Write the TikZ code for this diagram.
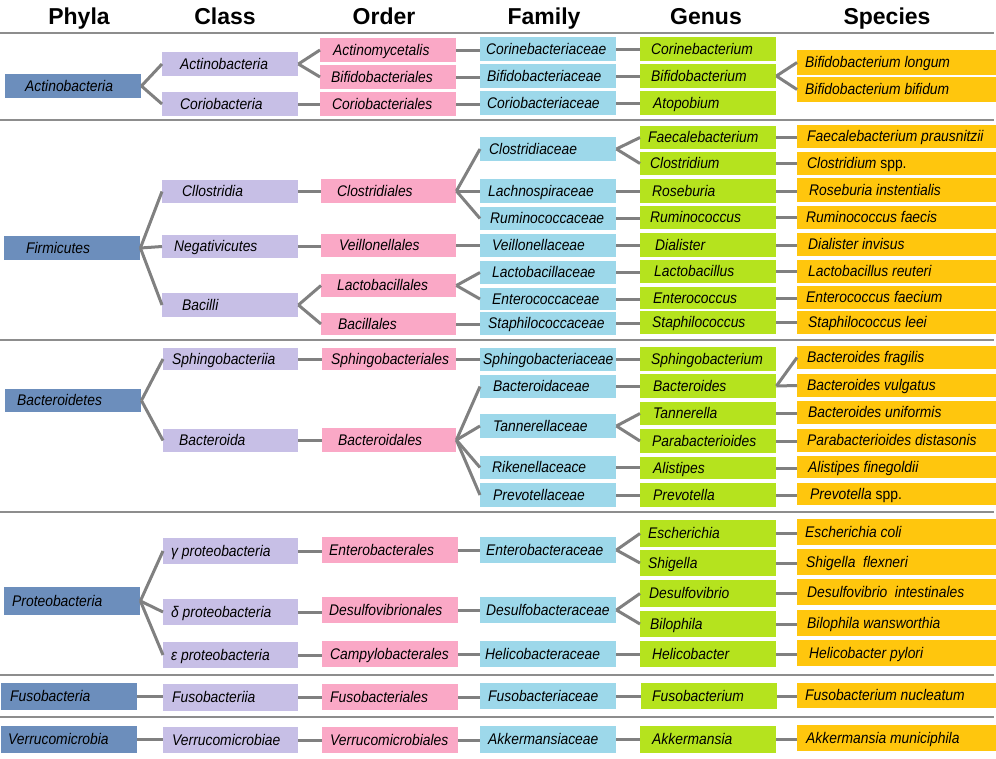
\documentclass[tikz,border=0pt]{standalone}
\usepackage{fontspec}
\setmainfont{Liberation Sans}[FakeStretch=0.9]
\newfontfamily\hdrfont{Liberation Sans}
\definecolor{cP}{HTML}{6C8EBC}
\definecolor{cC}{HTML}{C7BFE6}
\definecolor{cO}{HTML}{FAA8C6}
\definecolor{cF}{HTML}{9DD8EA}
\definecolor{cG}{HTML}{B5E31E}
\definecolor{cS}{HTML}{FFC60D}
\definecolor{lnc}{HTML}{808080}
\tikzset{
  box/.style={anchor=west, inner sep=0pt, text height=12pt, text depth=2pt,
    font=\fontsize{15.4}{17}\selectfont\itshape, text=black},
  hdr/.style={anchor=base, font=\hdrfont\bfseries\fontsize{23}{26}\selectfont},
  conn/.style={draw=lnc, line width=3pt},
  sepline/.style={draw=lnc!90, line width=1.3pt}
}
\newcommand\bx[8]{\node[box,fill=#2,minimum height={(#5)-(#4)}] (#1) at (#3,{((#4)+(#5))/2}) {\makebox[#6pt][l]{\hspace*{#7pt}#8}};}
\newcommand\br[2]{\draw[conn] (#1.east) -- (#2.west);}
\newcommand\st[2]{\draw[conn] (#1.east) -- (#1.east -| #2.west);}
\begin{document}
\begin{tikzpicture}[x=1pt,y=-1pt]
\useasboundingbox (0,0) rectangle (996,758);
% headers
\node[hdr] (hP) at (79,24) {Phyla};
\node[hdr] (hC) at (225,24) {Class};
\node[hdr] (hO) at (384,24) {Order};
\node[hdr] (hF) at (544,24) {Family};
\node[hdr] (hG) at (706,24) {Genus};
\node[hdr] (hS) at (887,24) {Species};
% separators
\foreach \yy in {33,120,340,512,675,717} \draw[sepline] (0,\yy) -- (994,\yy);
% ---- Actinobacteria
\bx{p1}{cP}{5}{74}{98}{136}{20}{Actinobacteria}
\bx{c1}{cC}{162}{52}{76}{136}{18}{Actinobacteria}
\bx{c2}{cC}{162}{92}{116}{136}{18}{Coriobacteria}
\bx{o1}{cO}{320}{38}{62}{136}{13}{Actinomycetalis}
\bx{o2}{cO}{320}{65}{89}{136}{11}{Bifidobacteriales}
\bx{o3}{cO}{320}{92}{116}{136}{12}{Coriobacteriales}
\bx{f1}{cF}{480}{37}{61}{136}{6}{Corinebacteriaceae}
\bx{f2}{cF}{480}{64}{88}{136}{7}{Bifidobacteriaceae}
\bx{f3}{cF}{480}{91}{115}{136}{7}{Coriobacteriaceae}
\bx{g1}{cG}{640}{37}{61}{136}{11}{Corinebacterium}
\bx{g2}{cG}{640}{64}{88}{136}{11}{Bifidobacterium}
\bx{g3}{cG}{640}{91}{115}{136}{13}{Atopobium}
\bx{s1}{cS}{797}{50}{75}{199}{8}{Bifidobacterium longum}
\bx{s2}{cS}{797}{77}{102}{199}{8}{Bifidobacterium bifidum}
\br{p1}{c1}\br{p1}{c2}\br{c1}{o1}\br{c1}{o2}\st{c2}{o3}
\st{o1}{f1}\st{o2}{f2}\st{o3}{f3}\st{f1}{g1}\st{f2}{g2}\st{f3}{g3}
\br{g2}{s1}\br{g2}{s2}
% ---- Firmicutes
\bx{p2}{cP}{4}{236}{260}{136}{22}{Firmicutes}
\bx{c3}{cC}{162}{180}{203}{136}{20}{Cllostridia}
\bx{c4}{cC}{162}{235}{258}{136}{12}{Negativicutes}
\bx{c5}{cC}{162}{293}{317}{136}{20}{Bacilli}
\bx{o4}{cO}{321}{179}{203}{135}{16}{Clostridiales}
\bx{o5}{cO}{321}{234}{257}{135}{18}{Veillonellales}
\bx{o6}{cO}{321}{274}{297}{135}{16}{Lactobacillales}
\bx{o7}{cO}{321}{313}{335}{135}{17}{Bacillales}
\bx{f4}{cF}{480}{137}{161}{136}{9}{Clostridiaceae}
\bx{f5}{cF}{480}{179}{203}{136}{8}{Lachnospiraceae}
\bx{f6}{cF}{480}{207}{230}{136}{10}{Ruminococcaceae}
\bx{f7}{cF}{480}{234}{257}{136}{12}{Veillonellaceae}
\bx{f8}{cF}{480}{261}{284}{136}{12}{Lactobacillaceae}
\bx{f9}{cF}{480}{288}{310}{136}{12}{Enterococcaceae}
\bx{f10}{cF}{480}{312}{335}{136}{8}{Staphilococcaceae}
\bx{g4}{cG}{640}{126}{149}{136}{8}{Faecalebacterium}
\bx{g5}{cG}{640}{152}{175}{136}{10}{Clostridium}
\bx{g6}{cG}{640}{179}{203}{136}{12}{Roseburia}
\bx{g7}{cG}{640}{206}{229}{136}{10}{Ruminococcus}
\bx{g8}{cG}{640}{233}{257}{136}{15}{Dialister}
\bx{g9}{cG}{640}{260}{283}{136}{14}{Lactobacillus}
\bx{g10}{cG}{640}{287}{309}{136}{13}{Enterococcus}
\bx{g11}{cG}{640}{311}{334}{136}{12}{Staphilococcus}
\bx{s3}{cS}{797}{125}{148}{199}{10}{Faecalebacterium prausnitzii}
\bx{s4}{cS}{797}{152}{175}{199}{10}{Clostridium \upshape spp.}
\bx{s5}{cS}{797}{178}{202}{199}{12}{Roseburia instentialis}
\bx{s6}{cS}{797}{206}{229}{199}{9}{Ruminococcus faecis}
\bx{s7}{cS}{797}{233}{256}{199}{11}{Dialister invisus}
\bx{s8}{cS}{797}{260}{283}{199}{11}{Lactobacillus reuteri}
\bx{s9}{cS}{797}{286}{309}{199}{9}{Enterococcus faecium}
\bx{s10}{cS}{797}{311}{334}{199}{11}{Staphilococcus leei}
\br{p2}{c3}\br{p2}{c4}\br{p2}{c5}
\st{c3}{o4}\st{c4}{o5}\br{c5}{o6}\br{c5}{o7}
\br{o4}{f4}\br{o4}{f5}\br{o4}{f6}\st{o5}{f7}\br{o6}{f8}\br{o6}{f9}\st{o7}{f10}
\br{f4}{g4}\br{f4}{g5}\st{f5}{g6}\st{f6}{g7}\st{f7}{g8}\st{f8}{g9}\st{f9}{g10}\st{f10}{g11}
\st{g4}{s3}\st{g5}{s4}\st{g6}{s5}\st{g7}{s6}\st{g8}{s7}\st{g9}{s8}\st{g10}{s9}\st{g11}{s10}
% ---- Bacteroidetes
\bx{p3}{cP}{5}{389}{412}{136}{12}{Bacteroidetes}
\bx{c6}{cC}{163}{348}{370}{135}{9}{Sphingobacteriia}
\bx{c7}{cC}{163}{429}{452}{135}{16}{Bacteroida}
\bx{o8}{cO}{322}{348}{370}{134}{9}{Sphingobacteriales}
\bx{o9}{cO}{322}{428}{452}{134}{16}{Bacteroidales}
\bx{f11}{cF}{480}{348}{371}{136}{3}{Sphingobacteriaceae}
\bx{f12}{cF}{480}{375}{398}{136}{13}{Bacteroidaceae}
\bx{f13}{cF}{480}{414}{438}{136}{13}{Tannerellaceae}
\bx{f14}{cF}{480}{456}{479}{136}{12}{Rikenellaceace}
\bx{f15}{cF}{480}{483}{507}{136}{13}{Prevotellaceae}
\bx{g12}{cG}{640}{347}{371}{136}{11}{Sphingobacterium}
\bx{g13}{cG}{640}{374}{398}{136}{13}{Bacteroides}
\bx{g14}{cG}{640}{402}{425}{136}{13}{Tannerella}
\bx{g15}{cG}{640}{429}{453}{136}{12}{Parabacterioides}
\bx{g16}{cG}{640}{457}{479}{136}{13}{Alistipes}
\bx{g17}{cG}{640}{483}{507}{136}{13}{Prevotella}
\bx{s11}{cS}{797}{346}{369}{199}{10}{Bacteroides fragilis}
\bx{s12}{cS}{797}{374}{397}{199}{10}{Bacteroides vulgatus}
\bx{s13}{cS}{797}{401}{424}{199}{11}{Bacteroides uniformis}
\bx{s14}{cS}{797}{429}{452}{199}{10}{Parabacterioides distasonis}
\bx{s15}{cS}{797}{456}{478}{199}{11}{Alistipes finegoldii}
\bx{s16}{cS}{797}{483}{505}{199}{13}{Prevotella \upshape spp.}
\br{p3}{c6}\br{p3}{c7}\st{c6}{o8}\st{c7}{o9}
\st{o8}{f11}\br{o9}{f12}\br{o9}{f13}\br{o9}{f14}\br{o9}{f15}
\st{f11}{g12}\st{f12}{g13}\br{f13}{g14}\br{f13}{g15}\st{f14}{g16}\st{f15}{g17}
\br{g13}{s11}\br{g13}{s12}\st{g14}{s13}\st{g15}{s14}\st{g16}{s15}\st{g17}{s16}
% ---- Proteobacteria
\bx{p4}{cP}{4}{587}{615}{136}{8}{Proteobacteria}
\bx{c8}{cC}{163}{538}{564}{135}{8}{γ proteobacteria}
\bx{c9}{cC}{163}{599}{625}{135}{8}{δ proteobacteria}
\bx{c10}{cC}{163}{642}{668}{135}{8}{ε proteobacteria}
\bx{o10}{cO}{322}{537}{563}{136}{7}{Enterobacterales}
\bx{o11}{cO}{322}{597}{623}{136}{7}{Desulfovibrionales}
\bx{o12}{cO}{322}{641}{667}{136}{8}{Campylobacterales}
\bx{f16}{cF}{480}{537}{563}{136}{6}{Enterobacteraceae}
\bx{f17}{cF}{480}{597}{623}{136}{6}{Desulfobacteraceae}
\bx{f18}{cF}{480}{641}{667}{136}{5}{Helicobacteraceae}
\bx{g18}{cG}{640}{520}{547}{136}{8}{Escherichia}
\bx{g19}{cG}{640}{550}{576}{136}{8}{Shigella}
\bx{g20}{cG}{640}{580}{607}{136}{9}{Desulfovibrio}
\bx{g21}{cG}{640}{611}{637}{136}{10}{Bilophila}
\bx{g22}{cG}{640}{641}{667}{136}{12}{Helicobacter}
\bx{s17}{cS}{797}{519}{545}{199}{8}{Escherichia coli}
\bx{s18}{cS}{797}{549}{575}{199}{9}{Shigella\ \ flexneri}
\bx{s19}{cS}{797}{579}{605}{199}{10}{Desulfovibrio\ \ intestinales}
\bx{s20}{cS}{797}{610}{636}{199}{10}{Bilophila wansworthia}
\bx{s21}{cS}{797}{640}{666}{199}{12}{Helicobacter pylori}
\br{p4}{c8}\br{p4}{c9}\br{p4}{c10}
\st{c8}{o10}\st{c9}{o11}\st{c10}{o12}
\st{o10}{f16}\st{o11}{f17}\st{o12}{f18}
\br{f16}{g18}\br{f16}{g19}\br{f17}{g20}\br{f17}{g21}\st{f18}{g22}
\st{g18}{s17}\st{g19}{s18}\st{g20}{s19}\st{g21}{s20}\st{g22}{s21}
% ---- Fusobacteria
\bx{p5}{cP}{1}{683}{710}{136}{9}{Fusobacteria}
\bx{c11}{cC}{163}{684}{711}{135}{9}{Fusobacteriia}
\bx{o13}{cO}{322}{684}{710}{136}{8}{Fusobacteriales}
\bx{f19}{cF}{480}{683}{709}{136}{8}{Fusobacteriaceae}
\bx{g23}{cG}{641}{683}{709}{136}{11}{Fusobacterium}
\bx{s22}{cS}{797}{683}{708}{199}{8}{Fusobacterium nucleatum}
\st{p5}{c11}\st{c11}{o13}\st{o13}{f19}\st{f19}{g23}\st{g23}{s22}
% ---- Verrucomicrobia
\bx{p6}{cP}{1}{726}{753}{136}{7}{Verrucomicrobia}
\bx{c12}{cC}{163}{727}{753}{135}{9}{Verrucomicrobiae}
\bx{o14}{cO}{322}{727}{753}{136}{8}{Verrucomicrobiales}
\bx{f20}{cF}{480}{726}{753}{136}{8}{Akkermansiaceae}
\bx{g24}{cG}{640}{726}{753}{136}{12}{Akkermansia}
\bx{s23}{cS}{797}{725}{751}{199}{9}{Akkermansia municiphila}
\st{p6}{c12}\st{c12}{o14}\st{o14}{f20}\st{f20}{g24}\st{g24}{s23}
\end{tikzpicture}
\end{document}
